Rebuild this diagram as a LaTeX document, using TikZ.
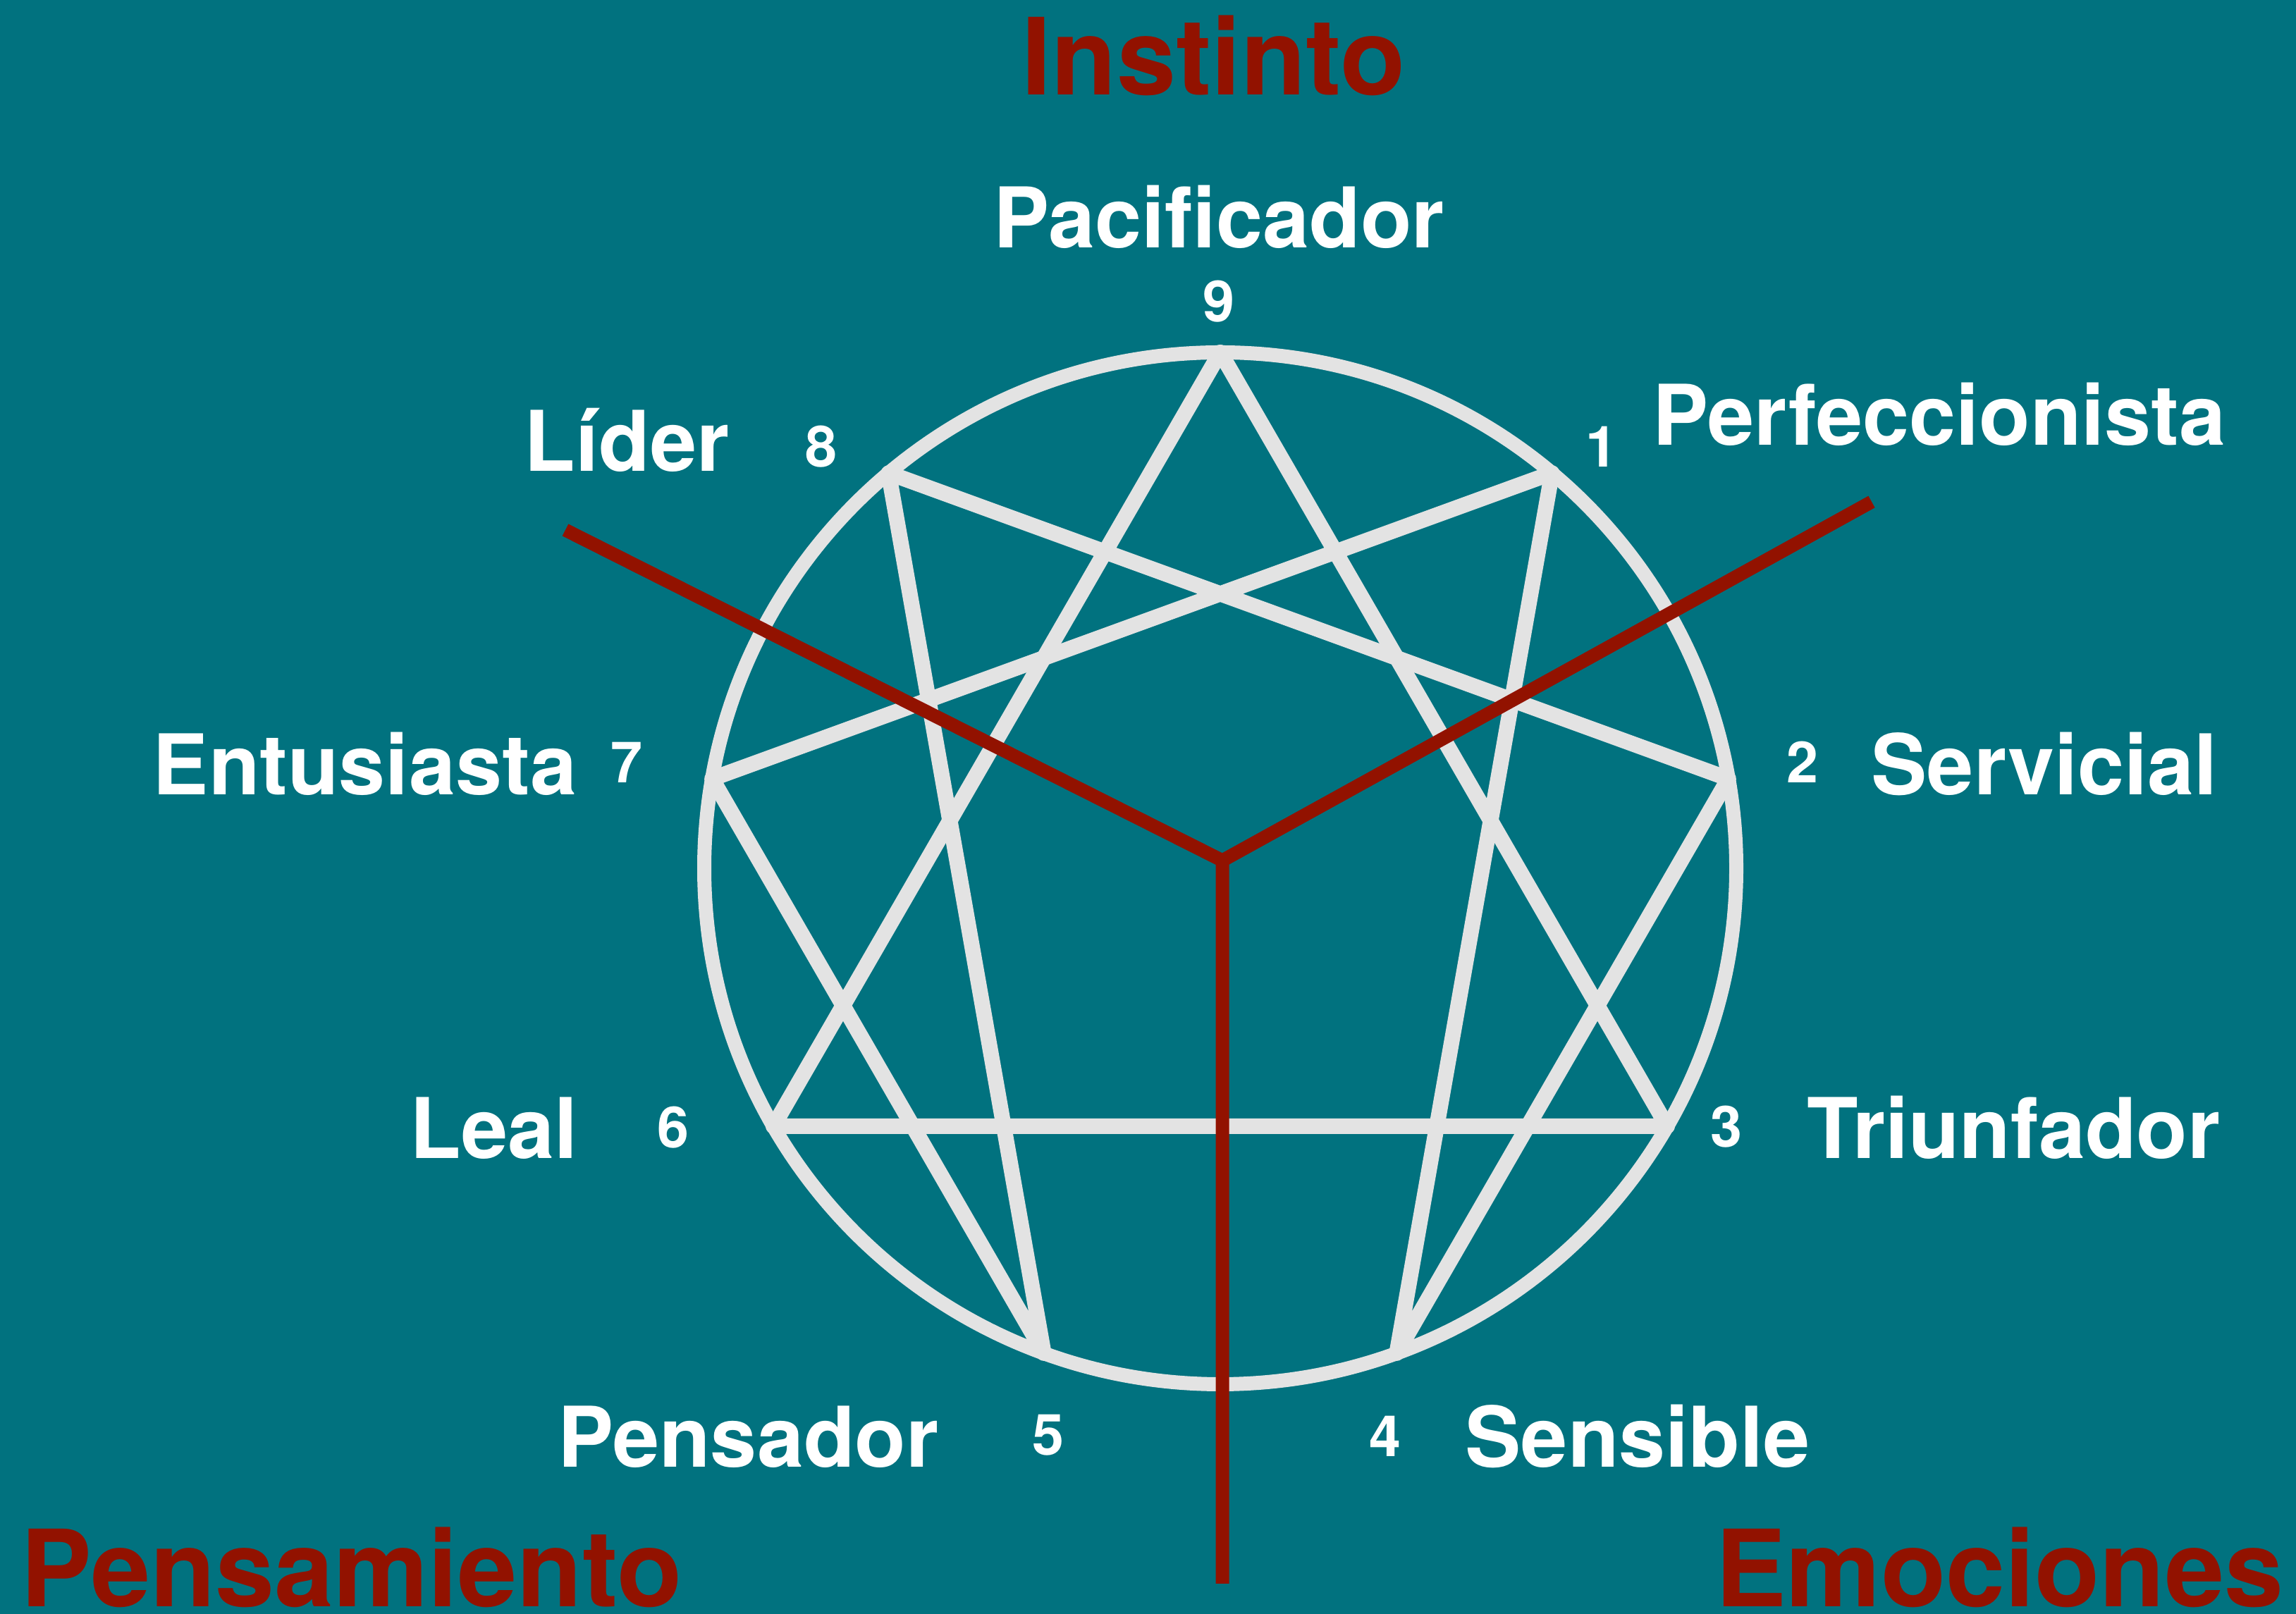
\documentclass[tikz,border=0pt]{standalone}
\usepackage{fontspec}
\setmainfont{TeX Gyre Heros}
\usetikzlibrary{positioning}

\definecolor{petrol}{RGB}{1,114,127}
\definecolor{rust}{RGB}{146,18,0}
\definecolor{chalk}{RGB}{227,227,227}

\tikzset{
  typename/.style={text=white, inner sep=0pt, font=\bfseries\fontsize{33.8}{40}\selectfont},
  typenum/.style={text=white, inner sep=0pt, anchor=base, font=\bfseries\fontsize{23}{27}\selectfont},
  centre/.style={text=rust, inner sep=0pt, font=\bfseries\fontsize{43}{50}\selectfont},
  figline/.style={draw=chalk, line width=0.22cm, line join=round, line cap=round},
  splitline/.style={draw=rust, line width=0.19cm},
}

\begin{document}
\begin{tikzpicture}
    \fill[petrol] (0,0) rectangle (32.57,22.90);
    \useasboundingbox (0,0) rectangle (32.57,22.90);

    \begin{scope}[shift={(17.31,10.58)}]
      \coordinate (c) at (0,0);
      \foreach \k in {1,...,9}
        \coordinate (p\k) at ({90-40*\k}:7.32);
      \draw[figline, line width=0.2cm] (c) circle (7.32);
      \draw[figline] (p9) -- (p3) -- (p6) -- cycle;
      \draw[figline] (p1) -- (p4) -- (p2) -- (p8) -- (p5) -- (p7) -- cycle;
    \end{scope}

    \coordinate (hub) at (17.34,10.69);
    \coordinate (endL) at (8.02,15.38);
    \coordinate (endR) at (26.55,15.78);
    \coordinate (endB) at (17.34,0.43);
    \draw[splitline] (endL) -- (hub) -- (endB);
    \draw[splitline] (hub) -- (endR);

    \node (n9) [typenum] at (17.29,18.33) {9};
    \node (n1) [typenum] at (22.72,16.27) {1};
    \node (n2) [typenum] at (25.57,11.79) {2};
    \node (n3) [typenum] at (24.49,6.62) {3};
    \node (n4) [typenum] at (19.65,2.23) {4};
    \node (n5) [typenum] at (14.87,2.25) {5};
    \node (n6) [typenum] at (9.55,6.61) {6};
    \node (n7) [typenum] at (8.89,11.79) {7};
    \node (n8) [typenum] at (11.65,16.27) {8};

    \node (t9) [typename, anchor=base, at=(n9.base), yshift=1.05cm] {Pacificador};
    \node (t1) [typename, anchor=base west, at=(n1.base), xshift=0.72cm, yshift=0.31cm] {Perfeccionista};
    \node (t2) [typename, anchor=base west, at=(n2.base), xshift=0.97cm, yshift=-0.17cm] {Servicial};
    \node (t3) [typename, anchor=base west, at=(n3.base), xshift=1.14cm, yshift=-0.16cm] {Triunfador};
    \node (t4) [typename, anchor=base west, at=(n4.base), xshift=1.13cm, yshift=-0.15cm] {Sensible};
    \node (t5) [typename, anchor=base east, at=(n5.base), xshift=-1.55cm, yshift=-0.17cm] {Pensador};
    \node (t6) [typename, anchor=base east, at=(n6.base), xshift=-1.35cm, yshift=-0.15cm] {Leal};
    \node (t7) [typename, anchor=base east, at=(n7.base), xshift=-0.70cm, yshift=-0.17cm] {Entusiasta};
    \node (t8) [typename, anchor=base east, at=(n8.base), xshift=-1.30cm, yshift=-0.06cm] {Líder};

    \node (instinto) [centre, anchor=base] at (17.22,21.55) {Instinto};
    \node (pensamiento) [centre, anchor=base west] at (0.29,0.10) {Pensamiento};
    \node (emociones) [centre, anchor=base east] at (32.40,0.10) {Emociones};
\end{tikzpicture}
\end{document}
